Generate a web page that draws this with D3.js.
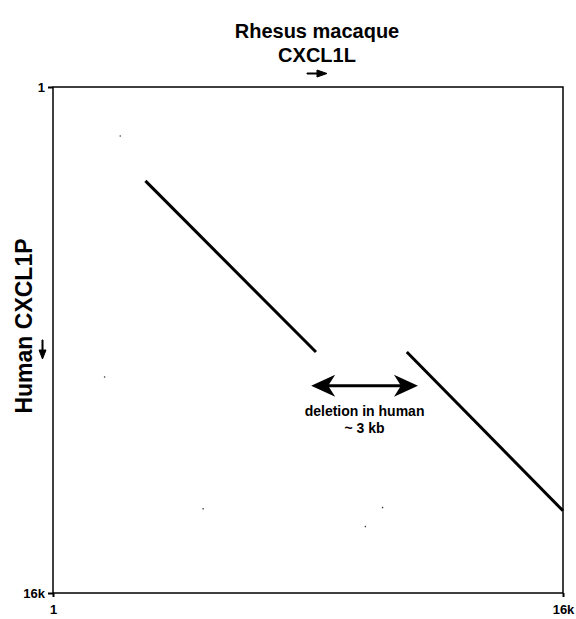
<!DOCTYPE html>
<html>
<head>
<meta charset="utf-8">
<script src="https://cdn.jsdelivr.net/npm/d3@7"></script>
<style>
body { margin: 0; background: #fff; }
svg text { font-family: "Liberation Sans", Arial, sans-serif; font-weight: bold; fill: #000; }
</style>
</head>
<body>
<svg id="chart" width="576" height="619"></svg>
<script>
// axis range (bp) and tick labels
var axisDomain = [1, 16000];
var tickValues = [1, 16000];
var tickLabels = ["1", "16k"];

// dot plot matches: [macaque start, human start, macaque end, human end]
var segments = [
    [2900, 2970, 8250, 8380],
    [11100, 8380, 16000, 13400]
];

// stray dots in the scan
var specks = [[2110, 1550], [1620, 9170], [4710, 13340], [10340, 13300], [9800, 13900]];

// deletion annotation
var deletion = { from: 8100, to: 11450, y: 9450 };
var deletionText = ["deletion in human", "~ 3 kb"];

var svg = d3.select("#chart");
var margin = { top: 87, right: 13, bottom: 26, left: 53 };
var width = 576 - margin.left - margin.right;
var height = 619 - margin.top - margin.bottom;

var x = d3.scaleLinear().domain(axisDomain).range([0, width]);
var y = d3.scaleLinear().domain(axisDomain).range([0, height]);

var g = svg.append("g").attr("transform", "translate(" + margin.left + "," + margin.top + ")");

// frame
g.append("rect")
    .attr("width", width).attr("height", height)
    .attr("fill", "none").attr("stroke", "#000").attr("stroke-width", 1.5);

var xAxis = d3.axisBottom(x).tickValues(tickValues).tickSize(4)
    .tickFormat(function (d, i) { return tickLabels[i]; });
var yAxis = d3.axisLeft(y).tickValues(tickValues).tickSize(5)
    .tickFormat(function (d, i) { return tickLabels[i]; });

var gx = g.append("g").attr("transform", "translate(0," + height + ")").call(xAxis);
gx.attr("font-size", 13).attr("font-family", null);
gx.select(".domain").remove();
gx.selectAll("line").attr("stroke-width", 2);
gx.selectAll("text").attr("dy", "1.05em");

var gy = g.append("g").call(yAxis);
gy.attr("font-size", 13).attr("font-family", null);
gy.select(".domain").remove();
gy.selectAll("line").attr("stroke-width", 2);

// match lines
g.selectAll(".seg").data(segments).enter().append("line")
    .attr("x1", function (d) { return x(d[0]); })
    .attr("y1", function (d) { return y(d[1]); })
    .attr("x2", function (d) { return x(d[2]); })
    .attr("y2", function (d) { return y(d[3]); })
    .attr("stroke", "#000").attr("stroke-width", 3);

g.selectAll(".speck").data(specks).enter().append("circle")
    .attr("cx", function (d) { return x(d[0]); })
    .attr("cy", function (d) { return y(d[1]); })
    .attr("r", 0.8).attr("fill", "#333");

// double arrow
var ax1 = x(deletion.from), ax2 = x(deletion.to), ay = y(deletion.y);
g.append("line").attr("x1", ax1 + 12).attr("x2", ax2 - 12).attr("y1", ay).attr("y2", ay)
    .attr("stroke", "#000").attr("stroke-width", 3);
g.append("path")
    .attr("d", "M" + ax1 + "," + ay + " L" + (ax1 + 24) + "," + (ay - 11) + " L" + (ax1 + 17) + "," + ay +
        " L" + (ax1 + 24) + "," + (ay + 11) + "Z")
    .attr("fill", "#000");
g.append("path")
    .attr("d", "M" + ax2 + "," + ay + " L" + (ax2 - 24) + "," + (ay - 11) + " L" + (ax2 - 17) + "," + ay +
        " L" + (ax2 - 24) + "," + (ay + 11) + "Z")
    .attr("fill", "#000");

g.selectAll(".dtext").data(deletionText).enter().append("text")
    .attr("x", (ax1 + ax2) / 2)
    .attr("y", function (d, i) { return ay + 30 + i * 17; })
    .attr("text-anchor", "middle")
    .style("font-size", "14px")
    .text(function (d) { return d; });

// top title
svg.append("text").attr("x", 317).attr("y", 38).attr("text-anchor", "middle")
    .style("font-size", "20px").text("Rhesus macaque");
svg.append("text").attr("x", 317).attr("y", 62).attr("text-anchor", "middle")
    .style("font-size", "20px").text("CXCL1L");
svg.append("path").attr("d", "M307,73 L317,73 L317,70 L327,73.5 L317,77 L317,74 L307,74Z")
    .attr("fill", "#000").attr("stroke", "#000").attr("stroke-width", 1);

// left title
svg.append("text").attr("transform", "translate(32,326) rotate(-90)")
    .attr("text-anchor", "middle").style("font-size", "23px").text("Human CXCL1P");
svg.append("path").attr("d", "M42,340 L42,350 L39,350 L42.5,359 L46,350 L43,350 L43,340Z")
    .attr("fill", "#000").attr("stroke", "#000").attr("stroke-width", 1);
</script>
</body>
</html>
